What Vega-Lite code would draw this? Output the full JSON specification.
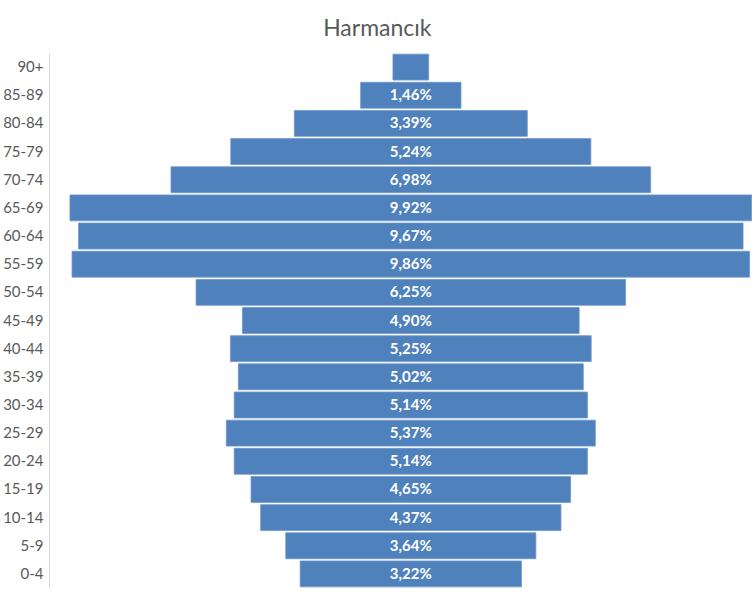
{
  "$schema": "https://vega.github.io/schema/vega-lite/v6.json",
  "autosize": "none",
  "width": 703,
  "height": 535,
  "padding": {"left": 49, "top": 53, "right": 0, "bottom": 15},
  "background": "white",
  "title": {
    "text": "Harmancık",
    "font": "Lato",
    "fontSize": 23,
    "fontWeight": "normal",
    "color": "#595959",
    "anchor": "middle",
    "frame": "bounds",
    "offset": 12
  },
  "data": {
    "values": [
      {"age": "90+", "pct": 0.0052},
      {"age": "85-89", "pct": 0.0146},
      {"age": "80-84", "pct": 0.0339},
      {"age": "75-79", "pct": 0.0524},
      {"age": "70-74", "pct": 0.0698},
      {"age": "65-69", "pct": 0.0992},
      {"age": "60-64", "pct": 0.0967},
      {"age": "55-59", "pct": 0.0986},
      {"age": "50-54", "pct": 0.0625},
      {"age": "45-49", "pct": 0.0490},
      {"age": "40-44", "pct": 0.0525},
      {"age": "35-39", "pct": 0.0502},
      {"age": "30-34", "pct": 0.0514},
      {"age": "25-29", "pct": 0.0537},
      {"age": "20-24", "pct": 0.0514},
      {"age": "15-19", "pct": 0.0465},
      {"age": "10-14", "pct": 0.0437},
      {"age": "5-9", "pct": 0.0364},
      {"age": "0-4", "pct": 0.0322}
    ]
  },
  "transform": [
    {"joinaggregate": [{"op": "max", "field": "pct", "as": "maxp"}]},
    {"calculate": "(datum.maxp - datum.pct) / 2", "as": "lo"},
    {"calculate": "(datum.maxp + datum.pct) / 2", "as": "hi"},
    {"calculate": "datum.maxp / 2", "as": "mid"}
  ],
  "encoding": {
    "y": {
      "field": "age",
      "type": "nominal",
      "sort": null,
      "scale": {"paddingInner": 0.08, "paddingOuter": 0.04},
      "axis": {
        "title": null,
        "ticks": false,
        "domainColor": "#d9d9d9",
        "domainWidth": 1,
        "labelFont": "Lato",
        "labelFontSize": 15,
        "labelColor": "#595959",
        "labelPadding": 6
      }
    }
  },
  "layer": [
    {
      "mark": {"type": "bar", "color": "#4f81bd", "stroke": "#6f97cc", "strokeWidth": 0.8},
      "encoding": {
        "x": {
          "field": "lo",
          "type": "quantitative",
          "scale": {"domain": [-0.00305, 0.09925], "nice": false, "zero": false},
          "axis": null
        },
        "x2": {"field": "hi"}
      }
    },
    {
      "transform": [{"filter": "datum.pct > 0.01"}],
      "mark": {"type": "text", "color": "white", "font": "Lato", "fontSize": 15, "fontWeight": "bold", "align": "center", "baseline": "middle"},
      "encoding": {
        "x": {"field": "mid", "type": "quantitative"},
        "text": {"field": "pct", "type": "quantitative", "format": ".2%"}
      }
    }
  ],
  "config": {
    "view": {"stroke": null},
    "locale": {
      "number": {"decimal": ",", "thousands": ".", "grouping": [3], "currency": ["", " TL"]}
    }
  }
}
